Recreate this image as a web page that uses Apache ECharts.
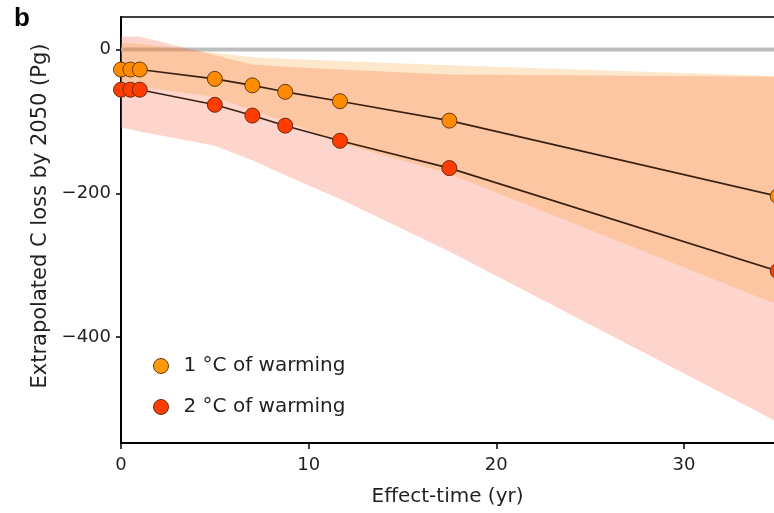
<!DOCTYPE html>
<html>
<head>
<meta charset="utf-8">
<script src="https://cdn.jsdelivr.net/npm/echarts@6/dist/echarts.min.js"></script>
<style>html,body{margin:0;padding:0;background:#fff}#c{width:774px;height:513px}</style>
</head>
<body>
<div id="c"></div>
<script>
// Effect-time (yr)
const xVals = [0, 0.5, 1, 5, 7, 8.75, 11.67, 17.5, 35];
// Extrapolated C loss by 2050 (Pg)
const loss1C = [-28, -28, -28, -41, -50, -59, -72, -99, -204];
const loss2C = [-56, -56, -56, -77, -92, -106, -127, -165, -308];
// Uncertainty bands
const upper1C = [9, 9, 8, -5, -11, -13, -16, -22, -37];
const lower1C = [-48, -50, -52, -66, -85, -100, -130, -173, -355];
const upper2C = [18, 18, 18, -8, -21, -24, -28, -35, -38];
const lower2C = [-109, -111, -114, -134, -154, -175, -208, -281, -518];
// Zero reference line
const zeroLine = 0;
// Axis ticks
const xTicks = [0, 10, 20, 30];
const yTicks = [0, -200, -400];
const seriesNames = ['1 °C of warming', '2 °C of warming'];

const FONT = 'DejaVu Sans';
const TXT = '#231f20';

function pairs(xs, ys) { return xs.map((x, i) => [x, ys[i]]); }

function band(upper, lower, color, z) {
  return {
    type: 'custom',
    silent: true,
    clip: true,
    z: z,
    data: [[0, 0]],
    renderItem: function (params, api) {
      const pts = [];
      for (let i = 0; i < xVals.length; i++) pts.push(api.coord([xVals[i], upper[i]]));
      for (let i = xVals.length - 1; i >= 0; i--) pts.push(api.coord([xVals[i], lower[i]]));
      return { type: 'polygon', shape: { points: pts }, style: { fill: color } };
    }
  };
}

const chart = echarts.init(document.getElementById('c'), null, { renderer: 'canvas' });
chart.setOption({
  backgroundColor: '#ffffff',
  animation: false,
  graphic: [{ type: 'text', left: 14, top: 6, style: { text: 'b', font: 'bold 26px "Liberation Sans"', fill: '#000' } }],
  grid: { left: 121, right: 0, top: 17, bottom: 70 },
  legend: {
    orient: 'vertical', left: 148, top: 351, itemGap: 21, itemWidth: 15, itemHeight: 15,
    icon: 'circle',
    textStyle: { fontFamily: FONT, fontSize: 20, color: TXT, padding: [0, 0, 0, 10] },
    data: [
      { name: seriesNames[0], itemStyle: { color: '#ff9a0a', borderColor: '#6b3a10', borderWidth: 1 } },
      { name: seriesNames[1], itemStyle: { color: '#ff3d00', borderColor: '#6b2a10', borderWidth: 1 } }
    ]
  },
  xAxis: [{
    type: 'value', min: 0, max: 34.8, interval: 10,
    name: 'Effect-time (yr)', nameLocation: 'middle', nameGap: 44,
    nameTextStyle: { fontFamily: FONT, fontSize: 20, color: TXT },
    axisLine: { show: true, onZero: false, lineStyle: { color: '#000', width: 2 } },
    axisTick: { show: true, length: 6, customValues: xTicks, lineStyle: { color: '#000', width: 1.5 } },
    axisLabel: { customValues: xTicks, fontFamily: FONT, fontSize: 18, color: TXT, margin: 13 },
    splitLine: { show: false }
  }, {
    type: 'value', position: 'top', min: 0, max: 34.8,
    axisLine: { show: true, onZero: false, lineStyle: { color: '#000', width: 1.5 } },
    axisTick: { show: false }, axisLabel: { show: false }, splitLine: { show: false }
  }],
  yAxis: {
    type: 'value', min: -547, max: 45,
    name: 'Extrapolated C loss by 2050 (Pg)', nameLocation: 'middle', nameGap: 70,
    nameTextStyle: { fontFamily: FONT, fontSize: 21, color: TXT, padding: [0, 0, 0, 28] },
    axisLine: { show: true, onZero: false, lineStyle: { color: '#000', width: 2 } },
    axisTick: { show: true, length: 5, customValues: yTicks, lineStyle: { color: '#000', width: 1.5 } },
    axisLabel: {
      customValues: yTicks, fontFamily: FONT, fontSize: 18, color: TXT, margin: 10,
      formatter: v => (v < 0 ? '\u2212' + Math.abs(v) : String(v))
    },
    splitLine: { show: false }
  },
  series: [
    {
      type: 'custom', silent: true, clip: true, z: 1, data: [[0, zeroLine]],
      renderItem: function (params, api) {
        const a = api.coord([0, zeroLine]);
        const b = api.coord([xVals[xVals.length - 1], zeroLine]);
        return { type: 'line', shape: { x1: a[0], y1: a[1], x2: b[0], y2: b[1] },
                 style: { stroke: '#bdbdbd', lineWidth: 4 } };
      }
    },
    band(upper2C, lower2C, 'rgba(248,115,85,0.3)', 2),
    band(upper1C, lower1C, 'rgba(248,138,0,0.2)', 2),
    {
      name: seriesNames[0], type: 'line', data: pairs(xVals, loss1C), z: 3, clip: false,
      symbol: 'circle', symbolSize: 15,
      lineStyle: { color: '#3a1f10', width: 1.6 },
      itemStyle: { color: '#ff8c00', borderColor: '#6b3a10', borderWidth: 1 }
    },
    {
      name: seriesNames[1], type: 'line', data: pairs(xVals, loss2C), z: 3, clip: false,
      symbol: 'circle', symbolSize: 15,
      lineStyle: { color: '#3a1f10', width: 1.6 },
      itemStyle: { color: '#ff3d00', borderColor: '#6b2a10', borderWidth: 1 }
    }
  ]
});
</script>
</body>
</html>
